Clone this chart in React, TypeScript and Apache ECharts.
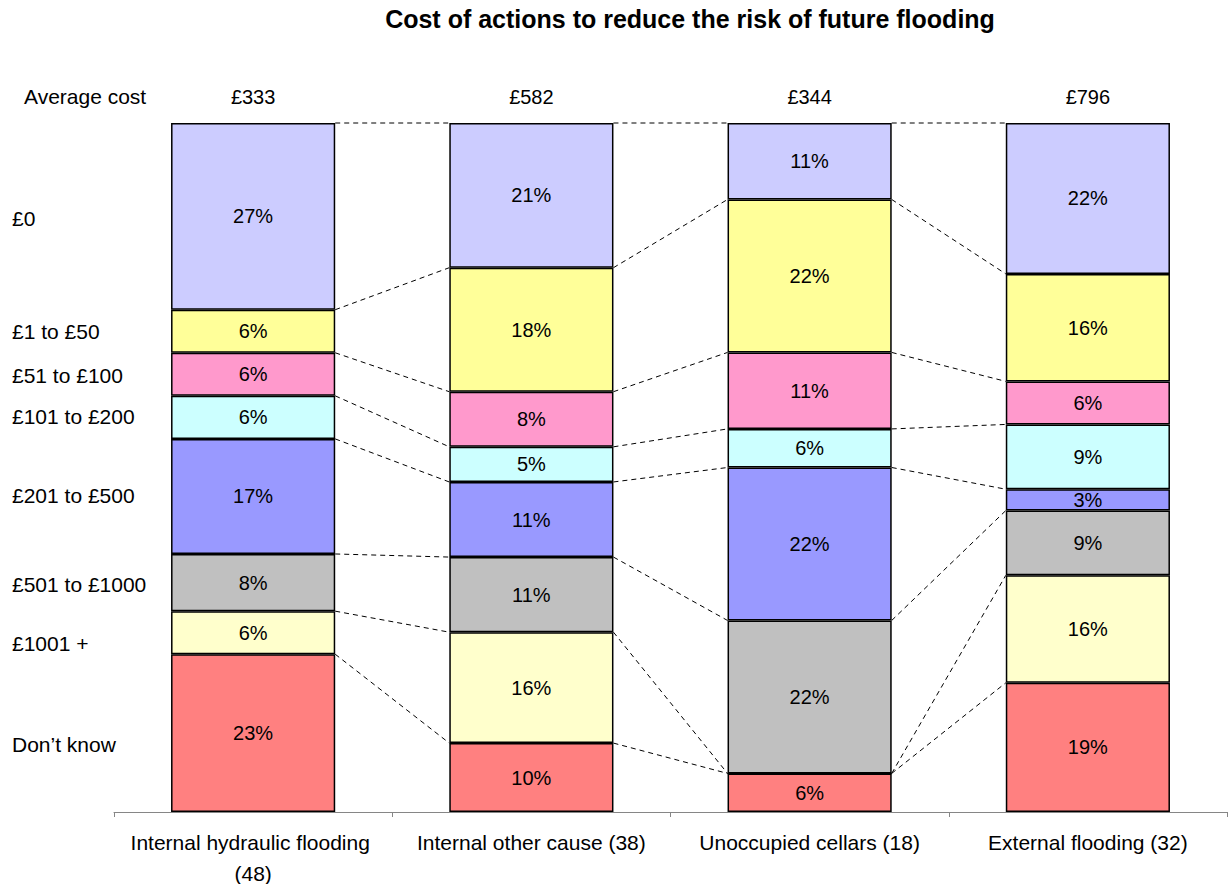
import React, { useEffect, useRef } from "react";
import * as echarts from "echarts";

const categories = [
  "Internal hydraulic flooding (48)",
  "Internal other cause (38)",
  "Unoccupied cellars (18)",
  "External flooding (32)",
];
const averageCost = ["£333", "£582", "£344", "£796"];

// bands listed bottom to top
const bandNames = [
  "Don’t know",
  "£1001 +",
  "£501 to £1000",
  "£201 to £500",
  "£101 to £200",
  "£51 to £100",
  "£1 to £50",
  "£0",
];
const dontKnow = [22.9, 10.0, 5.6, 18.75];
const over1000 = [6.25, 16.1, 0, 15.6];
const from501 = [8.3, 10.9, 22.2, 9.4];
const from201 = [16.7, 10.9, 22.2, 3.1];
const from101 = [6.25, 5.1, 5.6, 9.4];
const from51 = [6.25, 8.0, 11.1, 6.25];
const from1 = [6.25, 18.0, 22.2, 15.6];
const zeroCost = [27.1, 21.0, 11.1, 21.9];

const bands = [dontKnow, over1000, from501, from201, from101, from51, from1, zeroCost];
const bandColors = ["#FF8080", "#FFFFCC", "#C0C0C0", "#9999FF", "#CCFFFF", "#FF99CC", "#FFFF99", "#CCCCFF"];
const leftLabelNudge = [11, 11, 2, -1, -1, 1, 0, 2];

const FONT = '"Liberation Sans", Arial, sans-serif';
const BAR_RATIO = 0.59;

export default function App() {
  const ref = useRef<HTMLDivElement>(null);
  useEffect(() => {
    if (!ref.current) return;
    const chart = echarts.init(ref.current, null, { renderer: "svg" });

    const cum: number[][] = [];
    bands.forEach((b, s) => {
      cum.push(b.map((v, i) => v + (s > 0 ? cum[s - 1][i] : 0)));
    });

    const lineData: number[][] = [];
    for (let s = 0; s < bands.length; s++) {
      for (let i = 0; i < categories.length - 1; i++) lineData.push([i, s]);
    }

    const barSeries = bands.map((b, s) => ({
      name: bandNames[s],
      type: "bar",
      stack: "total",
      xAxisIndex: 0,
      barWidth: "59%",
      data: b,
      itemStyle: { color: bandColors[s], borderColor: "#000", borderWidth: 1.5 },
      label: {
        show: true,
        position: "inside",
        color: "#000",
        fontSize: 20,
        fontFamily: FONT,
        formatter: (p: any) => (p.value > 0 ? Math.round(p.value) + "%" : ""),
      },
      z: 3,
    }));

    chart.setOption({
      animation: false,
      title: {
        text: "Cost of actions to reduce the risk of future flooding",
        left: 690,
        textAlign: "center",
        top: 6,
        padding: 0,
        textStyle: { fontSize: 25, fontWeight: "bold", color: "#000", fontFamily: FONT },
      },
      grid: { left: 114, right: 2, top: 123, bottom: 72, outerBoundsMode: "none" },
      xAxis: [
        {
          type: "category",
          data: categories,
          position: "bottom",
          axisLine: { lineStyle: { color: "#868686", width: 1 } },
          axisTick: { show: true, length: 5, lineStyle: { color: "#868686" } },
          axisLabel: {
            interval: 0,
            color: "#000",
            fontSize: 21,
            fontFamily: FONT,
            margin: 15,
            lineHeight: 31,
            width: 255,
            overflow: "break",
          },
        },
        {
          type: "category",
          data: averageCost,
          position: "top",
          axisLine: { show: false },
          axisTick: { show: false },
          axisLabel: { interval: 0, color: "#000", fontSize: 20, fontFamily: FONT, margin: 16 },
        },
      ],
      yAxis: { type: "value", min: 0, max: 100, show: false },
      graphic: [
        {
          type: "text",
          x: 24,
          y: 96,
          style: { text: "Average cost", fill: "#000", font: `21px ${FONT}`, verticalAlign: "middle" },
        },
      ],
      series: [
        ...barSeries,
        {
          type: "custom",
          xAxisIndex: 0,
          silent: true,
          z: 2,
          data: lineData,
          renderItem: (params: any, api: any) => {
            const i = api.value(0);
            const s = api.value(1);
            const a = api.coord([i, cum[s][i]]);
            const b = api.coord([i + 1, cum[s][i + 1]]);
            const hw = (api.size([1, 0])[0] * BAR_RATIO) / 2;
            return {
              type: "line",
              shape: { x1: a[0] + hw, y1: a[1], x2: b[0] - hw, y2: b[1] },
              style: { stroke: "#000", lineWidth: 1, lineDash: [5, 4] },
            };
          },
        },
        {
          type: "custom",
          xAxisIndex: 0,
          silent: true,
          z: 2,
          data: bandNames.map((_, s) => [0, s]),
          renderItem: (params: any, api: any) => {
            const s = api.value(1);
            const p = api.coord([0, cum[s][0] - bands[s][0] / 2]);
            return {
              type: "text",
              x: 12,
              y: p[1] + leftLabelNudge[s],
              style: {
                text: bandNames[s],
                fill: "#000",
                font: `21px ${FONT}`,
                align: "left",
                verticalAlign: "middle",
              },
            };
          },
        },
      ],
    });
    return () => chart.dispose();
  }, []);
  return (
    <div
      ref={ref}
      style={{ position: "absolute", left: 0, top: 0, width: 1229, height: 884, background: "#fff" }}
    />
  );
}
